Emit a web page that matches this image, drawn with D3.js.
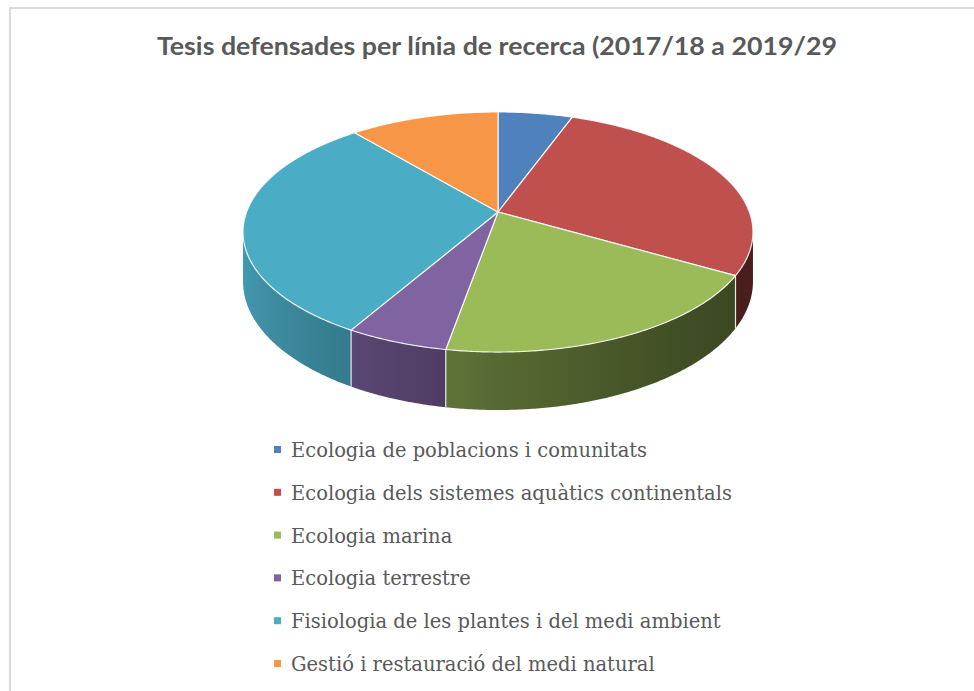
<!DOCTYPE html>
<html>
<head>
<meta charset="utf-8">
<script src="https://cdn.jsdelivr.net/npm/d3@7/dist/d3.min.js"></script>
<style>
  html, body { margin: 0; padding: 0; background: #fff; }
  svg { display: block; }
</style>
</head>
<body>
<svg id="chart" width="974" height="691"></svg>
<script>
const title = "Tesis defensades per línia de recerca (2017/18 a 2019/29";
const categories = [
  "Ecologia de poblacions i comunitats",
  "Ecologia dels sistemes aquàtics continentals",
  "Ecologia marina",
  "Ecologia terrestre",
  "Fisiologia de les plantes i del medi ambient",
  "Gestió i restauració del medi natural"
];
const values = [2, 10, 7, 2, 11, 4];
const colors = ["#4f81bd", "#c0504d", "#9bbb59", "#8064a2", "#4bacc6", "#f79646"];

const svg = d3.select("#chart");
const defs = svg.append("defs");

// chart border
svg.append("rect")
  .attr("x", 10).attr("y", 8).attr("width", 980).attr("height", 700)
  .attr("fill", "#fff").attr("stroke", "#d9d9d9").attr("stroke-width", 2);

// title
svg.append("text")
  .attr("x", 497).attr("y", 55)
  .attr("text-anchor", "middle")
  .attr("font-family", "Lato, 'Open Sans', sans-serif")
  .attr("font-weight", "bold")
  .attr("font-size", 24)
  .attr("fill", "#595959")
  .attr("textLength", 680)
  .attr("lengthAdjust", "spacingAndGlyphs")
  .text(title);

// 3D perspective pie geometry
const cx = 498, cy = 212;
const k = 1 / 6;          // perspective strength
const A = 251.4, B = 116.7, D = 48.3;
function proj(theta, z) {
  const u = Math.sin(theta), v = -Math.cos(theta);
  const w = 1 - k * v;
  return [cx + A * u / w, cy + B * v / w + (z ? D / w : 0)];
}
const shade = t => 0.66 + 0.28 * Math.cos(t - (290 * Math.PI / 180));

const pie = d3.pie().sort(null).value(d => d)(values);
const step = Math.PI / 360;
const silA = Math.PI - Math.acos(k);        // rightmost silhouette angle
const silB = Math.PI + Math.acos(k);        // leftmost silhouette angle
const line = d3.line();

// side walls with horizontal gradient shading
const sides = [];
pie.forEach((p, i) => {
  const a0 = Math.max(p.startAngle, silA), a1 = Math.min(p.endAngle, silB);
  if (a1 <= a0) return;
  const n = Math.max(2, Math.ceil((a1 - a0) / step));
  const ts = d3.range(n + 1).map(j => a0 + (a1 - a0) * j / n);
  const top = ts.map(t => proj(t, 0));
  const bot = ts.map(t => proj(t, 1)).reverse();
  const xs = top.map(q => q[0]);
  const xmin = d3.min(xs), xmax = d3.max(xs);
  const id = "side" + i;
  const g = defs.append("linearGradient").attr("id", id)
    .attr("gradientUnits", "userSpaceOnUse")
    .attr("x1", xmin).attr("x2", xmax).attr("y1", 0).attr("y2", 0);
  const c = d3.rgb(colors[i]);
  const stops = ts.map((t, j) => ({ off: (xs[j] - xmin) / (xmax - xmin || 1), f: shade(t) }))
    .sort((a, b) => a.off - b.off);
  const sub = stops.filter((s, j) => j % 6 === 0 || j === stops.length - 1);
  g.selectAll("stop").data(sub).join("stop")
    .attr("offset", s => s.off)
    .attr("stop-color", s => d3.rgb(c.r * s.f, c.g * s.f, c.b * s.f).formatHex());
  sides.push({ d: line(top.concat(bot)) + "Z", id });
});
svg.append("g").selectAll("path").data(sides).join("path")
  .attr("d", d => d.d)
  .attr("fill", d => `url(#${d.id})`);

// white boundary lines on the side
const bounds = pie.map(p => p.startAngle).filter(a => a > silA && a < silB);
svg.append("g").selectAll("line").data(bounds).join("line")
  .attr("x1", a => proj(a, 0)[0]).attr("y1", a => proj(a, 0)[1])
  .attr("x2", a => proj(a, 1)[0]).attr("y2", a => proj(a, 1)[1])
  .attr("stroke", "#fff").attr("stroke-width", 1.2).attr("stroke-opacity", 0.85);

// top faces
function topPath(p) {
  const pts = [[cx, cy]];
  const n = Math.max(2, Math.ceil((p.endAngle - p.startAngle) / step));
  for (let j = 0; j <= n; j++) {
    pts.push(proj(p.startAngle + (p.endAngle - p.startAngle) * j / n, 0));
  }
  return line(pts) + "Z";
}
svg.append("g").selectAll("path").data(pie).join("path")
  .attr("d", topPath)
  .attr("fill", (d, i) => colors[i])
  .attr("stroke", "#fff")
  .attr("stroke-width", 1.2)
  .attr("stroke-opacity", 0.85)
  .attr("stroke-linejoin", "round");

// legend
const legendY = d3.scalePoint().domain(categories).range([450, 664]);
const lg = svg.append("g").selectAll("g").data(categories).join("g")
  .attr("transform", d => `translate(0,${legendY(d)})`);
lg.append("rect")
  .attr("x", 274).attr("y", -4).attr("width", 7).attr("height", 7)
  .attr("fill", (d, i) => colors[i]);
lg.append("text")
  .attr("x", 291).attr("y", 7)
  .attr("font-family", "'DejaVu Serif', serif")
  .attr("font-size", 19.5)
  .attr("fill", "#595959")
  .text(d => d);
</script>
</body>
</html>
